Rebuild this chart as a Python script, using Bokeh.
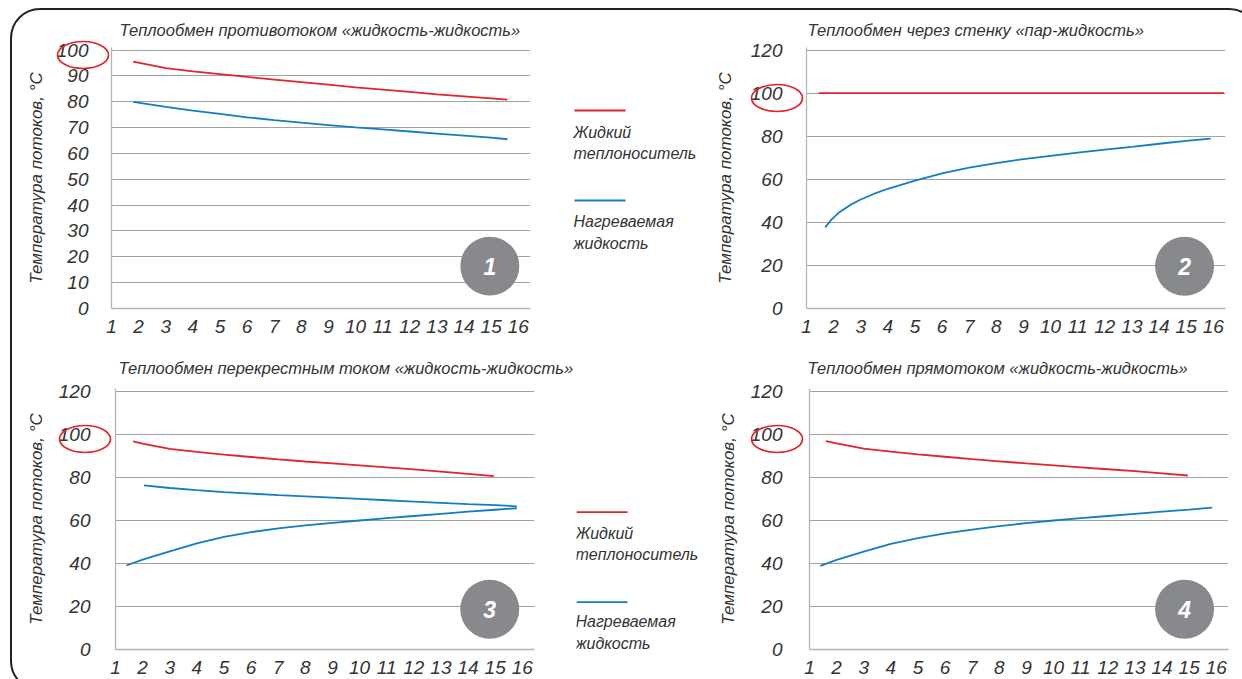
from bokeh.plotting import figure
from bokeh.models import Range1d, FixedTicker, Div
from bokeh.layouts import row, column
from bokeh.core.properties import value
from bokeh.embed import file_html
from bokeh.resources import INLINE

# ---------------- data ----------------
titles = [
    "Теплообмен противотоком «жидкость-жидкость»",
    "Теплообмен через стенку «пар-жидкость»",
    "Теплообмен  перекрестным током «жидкость-жидкость»",
    "Теплообмен  прямотоком «жидкость-жидкость»",
]
y_title = "Температура потоков, °C"
x_ticks = list(range(1, 17))
legend_labels = ["Жидкий\nтеплоноситель", "Нагреваемая\nжидкость"]
badges = ["1", "2", "3", "4"]

# panel 1 (counterflow)
x1_red = [1.8, 3, 4, 5, 6, 7, 8, 9, 10, 11, 12, 13, 14, 15, 15.6]
y1_red = [95.5, 93.0, 91.8, 90.7, 89.6, 88.6, 87.6, 86.6, 85.6, 84.7, 83.8, 82.9, 82.1, 81.3, 80.8]
x1_blue = [1.8, 3, 4, 5, 6, 7, 8, 9, 10, 11, 12, 13, 14, 15, 15.6]
y1_blue = [80.0, 78.0, 76.6, 75.3, 74.0, 72.9, 71.9, 71.0, 70.1, 69.3, 68.5, 67.7, 66.9, 66.1, 65.5]

# panel 2 (steam-liquid)
x2_red = [1.45, 2, 4, 6, 8, 10, 12, 14, 16, 16.4]
y2_red = [100, 100, 100, 100, 100, 100, 100, 100, 100, 100]
x2_blue = [1.69, 1.9, 2.2, 2.6, 3, 3.5, 4, 5, 6, 7, 8, 9, 10, 11, 12, 13, 14, 15, 15.9]
y2_blue = [37.7, 41.0, 44.6, 48.0, 50.6, 53.3, 55.6, 59.4, 62.7, 65.4, 67.5, 69.4, 70.9,
           72.4, 73.8, 75.1, 76.5, 77.8, 78.9]

# panel 3 (cross flow)
x3_red = [1.65, 2, 3, 4, 5, 6, 7, 8, 9, 10, 11, 12, 13, 14, 14.95]
y3_red = [96.6, 95.6, 93.2, 91.8, 90.5, 89.4, 88.3, 87.3, 86.4, 85.5, 84.6, 83.6, 82.6, 81.6, 80.5]
x3_blue_up = [2.05, 3, 4, 5, 6, 7, 8, 9, 10, 11, 12, 13, 14, 15, 15.8]
y3_blue_up = [76.2, 75.0, 74.0, 73.1, 72.4, 71.7, 71.1, 70.5, 69.9, 69.3, 68.7, 68.1, 67.5, 67.0, 66.5]
x3_blue_low = [1.4, 2, 3, 4, 5, 6, 7, 8, 9, 10, 11, 12, 13, 14, 15, 15.8]
y3_blue_low = [39.0, 41.7, 45.6, 49.3, 52.3, 54.5, 56.2, 57.6, 58.8, 59.9, 61.0, 62.0, 63.0, 64.0, 64.9, 65.6]

# panel 4 (parallel flow)
x4_red = [1.6, 2, 3, 4, 5, 6, 7, 8, 9, 10, 11, 12, 13, 14, 14.95]
y4_red = [96.8, 95.7, 93.3, 91.9, 90.6, 89.5, 88.4, 87.4, 86.4, 85.5, 84.6, 83.7, 82.8, 81.8, 80.8]
x4_blue = [1.4, 2, 3, 4, 5, 6, 7, 8, 9, 10, 11, 12, 13, 14, 15, 15.85]
y4_blue = [38.8, 41.6, 45.5, 49.0, 51.7, 53.9, 55.7, 57.3, 58.7, 59.9, 61.0, 62.0, 63.0, 64.0, 65.0, 65.9]

# ---------------- style ----------------
FONT = "Liberation Sans"
RED = "#e3232b"
BLUE = "#127dc2"
TXT = "#333333"
GRID = "#a3a3a3"
AXIS = "#b5b5b5"
BADGE = "#88898c"
FW, FH = 419, 261
XR = (1, 16.45)


def panel(title, title_off, title_standoff, ymax, ystep, yend, mb, tick_standoff,
          label_standoff, badge_xy, badge_text):
    p = figure(frame_width=FW, frame_height=FH,
               min_border_left=mb[0], min_border_right=mb[1],
               min_border_top=mb[2], min_border_bottom=mb[3],
               x_range=Range1d(*XR), y_range=Range1d(0, yend),
               output_backend="svg", toolbar_location=None)
    p.outline_line_color = None
    p.background_fill_color = None
    p.border_fill_color = None
    p.title.text = title
    p.title.align = "left"
    p.title.offset = title_off
    p.title.standoff = title_standoff
    p.title.text_font = FONT
    p.title.text_font_style = "italic"
    p.title.text_font_size = "16.5px"
    p.title.text_color = TXT

    p.xgrid.visible = False
    p.ygrid.grid_line_color = GRID
    p.ygrid.grid_line_width = 1

    p.yaxis.ticker = FixedTicker(ticks=list(range(0, ymax + 1, ystep)))
    p.xaxis.ticker = FixedTicker(ticks=x_ticks)
    for ax in (p.xaxis[0], p.yaxis[0]):
        ax.axis_line_color = AXIS
        ax.axis_line_width = 1.3
        ax.major_tick_line_color = None
        ax.minor_tick_line_color = None
        ax.major_label_text_font = FONT
        ax.major_label_text_font_style = "italic"
        ax.major_label_text_font_size = "19px"
        ax.major_label_text_color = TXT
    p.xaxis.major_label_standoff = 5
    p.yaxis.major_label_standoff = tick_standoff
    p.yaxis.axis_label = y_title
    p.yaxis.axis_label_text_font = FONT
    p.yaxis.axis_label_text_font_style = "italic"
    p.yaxis.axis_label_text_font_size = "17px"
    p.yaxis.axis_label_text_color = TXT
    p.yaxis.axis_label_standoff = label_standoff

    p.scatter(x=[badge_xy[0]], y=[badge_xy[1]], size=59, color=BADGE, line_color=None)
    p.text(x=[badge_xy[0]], y=[badge_xy[1]], text=[badge_text],
           text_align="center", text_baseline="middle",
           text_font=value(FONT), text_font_style="bold italic",
           text_font_size="23px", text_color="white")
    return p


# page layout (content origin at x=12, y=10)
# top row: p1 12..535, legend 535..706, p2 706..1257 ; frames y 47..308
p1 = panel(titles[0], 8, 17, 100, 10, 101, (99, 5, 37, 32), 17, 8,
           (14.95, 16.4), badges[0])
p1.line(x1_red, y1_red, line_color=RED, line_width=1.8)
p1.line(x1_blue, y1_blue, line_color=BLUE, line_width=1.8)

p2 = panel(titles[1], 1, 17, 120, 20, 121.2, (100, 32, 37, 32), 18, 13,
           (14.94, 19.6), badges[1])
p2.line(x2_blue, y2_blue, line_color=BLUE, line_width=1.8)
p2.line(x2_red, y2_red, line_color=RED, line_width=1.8)

# bottom row: p3 12..576, legend 576..709, p4 709..1257 ; frames y 388..649
p3 = panel(titles[2], 3, 23, 120, 20, 121.2, (103, 42, 48, 40), 19, 10,
           (14.8, 18.7), badges[2])
p3.line(x3_red, y3_red, line_color=RED, line_width=1.8)
p3.line(x3_blue_up, y3_blue_up, line_color=BLUE, line_width=1.8)
p3.line(x3_blue_low, y3_blue_low, line_color=BLUE, line_width=1.8)

p4 = panel(titles[3], -2, 23, 120, 20, 121.2, (100, 29, 48, 40), 21, 10,
           (14.83, 18.7), badges[3])
p4.line(x4_red, y4_red, line_color=RED, line_width=1.8)
p4.line(x4_blue, y4_blue, line_color=BLUE, line_width=1.8)

leg_lines = legend_labels[0].split("\n") + legend_labels[1].split("\n")


def legend_fig(x0, x1, ytop, ybot, mbt, mbb, tx, y_red, y_blue, ys):
    """Legend strip; its ranges are in page pixels of the strip's frame."""
    f = figure(frame_width=x1 - x0, frame_height=FH, min_border_left=0,
               min_border_right=0, min_border_top=mbt, min_border_bottom=mbb,
               x_range=Range1d(x0, x1), y_range=Range1d(ybot, ytop),
               x_axis_type=None, y_axis_type=None,
               output_backend="svg", toolbar_location=None)
    f.outline_line_color = None
    f.grid.visible = False
    f.background_fill_color = None
    f.border_fill_color = None
    f.segment(x0=[tx + 1, tx + 1], y0=[y_red, y_blue], x1=[tx + 52, tx + 52],
              y1=[y_red, y_blue], line_color=[RED, BLUE], line_width=1.8)
    f.text(x=[tx] * 4, y=ys, text=leg_lines, text_align="left", text_baseline="middle",
           text_font=value(FONT), text_font_style="italic", text_font_size="16px",
           text_color=TXT)
    return f


leg1 = legend_fig(535, 706, 47, 308, 37, 32, 573, 110, 200,
                  [131.7, 153.0, 220.5, 242.7])
leg2 = legend_fig(576, 709, 388, 649, 48, 40, 575, 511.7, 601.7,
                  [532.7, 554.3, 621.0, 643.3])

layout = column(row(p1, leg1, p2), row(p3, leg2, p4),
                margin=(8, 0, 0, 10),
                styles={"border": "2px solid #222222", "border-radius": "30px"})

# red ovals around the "100" tick labels (page-pixel overlay)
ovals = [(78, 50), (772, 93), (80, 434), (772, 434)]
shapes = "".join(
    f'<ellipse cx="{cx}" cy="{cy}" rx="25.5" ry="13.5" fill="none" '
    f'stroke="{RED}" stroke-width="1.7"/>' for cx, cy in ovals)
html = (f'<svg xmlns="http://www.w3.org/2000/svg" width="1242" height="679" '
        f'style="position:absolute;left:0;top:0;pointer-events:none;">{shapes}</svg>')
overlay = Div(text=html, width=1242, height=679,
              styles={"position": "absolute", "left": "0px", "top": "0px",
                      "z-index": "1000", "overflow": "visible",
                      "pointer-events": "none"})

open("out.html", "w").write(file_html([layout, overlay], INLINE))
